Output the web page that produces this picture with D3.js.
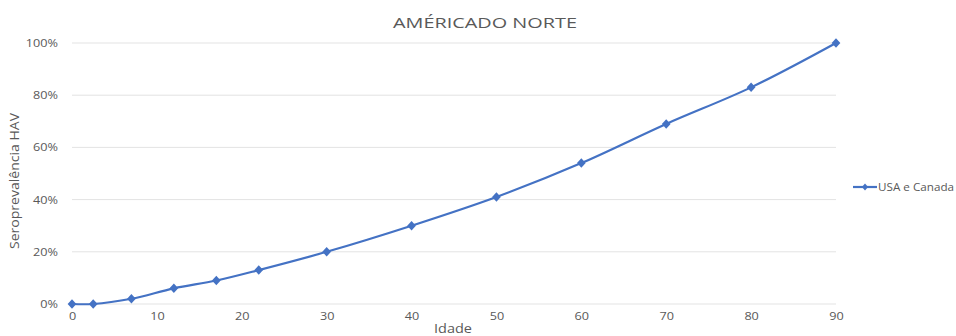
<!DOCTYPE html>
<html>
<head>
<meta charset="utf-8">
<script src="https://cdn.jsdelivr.net/npm/d3@7"></script>
<style>
  body { margin: 0; background: #fff; overflow: hidden; }
  svg { display: block; }
  text { font-family: "Open Sans", "Liberation Sans", sans-serif; }
</style>
</head>
<body>
<svg id="mainsvg" width="956" height="336"></svg>
<script>
const ages = [0, 2.5, 7, 12, 17, 22, 30, 40, 50, 60, 70, 80, 90];
const prevalence = [0, 0, 2, 6, 9, 13, 20, 30, 41, 54, 69, 83, 100];
const xTicks = [0, 10, 20, 30, 40, 50, 60, 70, 80, 90];
const yTicks = [0, 20, 40, 60, 80, 100];
const seriesName = 'USA e Canada';

const svg = d3.select('#mainsvg');
const margin = { top: 43, left: 72 };
const innerWidth = 836 - margin.left;
const innerHeight = 304 - margin.top;
const blue = '#4472c4';

const x = d3.scaleLinear().domain([0, 90]).range([0, innerWidth]);
const y = d3.scaleLinear().domain([0, 100]).range([innerHeight, 0]);

const g = svg.append('g').attr('transform', `translate(${margin.left},${margin.top})`);

// gridlines
g.selectAll('.grid').data(yTicks).join('line')
    .attr('x1', 0).attr('x2', innerWidth)
    .attr('y1', d => y(d)).attr('y2', d => y(d))
    .attr('stroke', '#e3e3e3').attr('stroke-width', 1);

// stretch text a little wider, like the reference
const widen = function(sel, k) {
    sel.each(function() {
        const w = this.getComputedTextLength();
        d3.select(this).attr('textLength', w * k).attr('lengthAdjust', 'spacingAndGlyphs');
    });
};

// y axis labels
const yAxis = d3.axisLeft(y).tickValues(yTicks).tickFormat(d => d + '%').tickSize(0).tickPadding(14);
g.append('g').call(yAxis)
    .call(a => a.select('.domain').remove())
    .selectAll('text').attr('fill', '#595959').attr('font-size', 11)
    .call(widen, 1.15);

// x axis labels
const xAxis = d3.axisBottom(x).tickValues(xTicks).tickSize(0).tickPadding(8);
g.append('g').attr('transform', `translate(0,${innerHeight})`).call(xAxis)
    .call(a => a.select('.domain').remove())
    .selectAll('text').attr('fill', '#595959').attr('font-size', 11)
    .call(widen, 1.15);

// line
const data = ages.map((a, i) => ({ age: a, v: prevalence[i] }));
const line = d3.line().x(d => x(d.age)).y(d => y(d.v)).curve(d3.curveCatmullRom.alpha(0.5));
g.append('path').datum(data)
    .attr('d', line)
    .attr('fill', 'none').attr('stroke', blue).attr('stroke-width', 2.2);

const diamond = d3.symbol().type(d3.symbolDiamond).size(36);
g.selectAll('.pt').data(data).join('path')
    .attr('d', diamond)
    .attr('transform', d => `translate(${x(d.age)},${y(d.v)}) scale(1.35,0.85)`)
    .attr('fill', blue);

// title
svg.append('text').text('AMÉRICADO NORTE')
    .attr('x', 485).attr('y', 28)
    .attr('text-anchor', 'middle')
    .attr('font-size', 15).attr('fill', '#595959')
    .attr('textLength', 184).attr('lengthAdjust', 'spacingAndGlyphs');

// axis titles
svg.append('text').text('Idade')
    .attr('x', 453).attr('y', 333)
    .attr('text-anchor', 'middle')
    .attr('font-size', 12).attr('fill', '#595959')
    .attr('textLength', 38).attr('lengthAdjust', 'spacingAndGlyphs');

svg.append('text').text('Seroprevalência HAV')
    .attr('transform', 'translate(19,181) rotate(-90)')
    .attr('text-anchor', 'middle')
    .attr('font-size', 12).attr('fill', '#595959')
    .attr('textLength', 136).attr('lengthAdjust', 'spacingAndGlyphs');

// legend
const lg = svg.append('g').attr('transform', 'translate(853,187)');
lg.append('line').attr('x1', 0).attr('x2', 24).attr('stroke', blue).attr('stroke-width', 2.2);
lg.append('path').attr('d', d3.symbol().type(d3.symbolDiamond).size(20))
    .attr('transform', 'translate(12,0) scale(1.3,0.85)').attr('fill', blue);
lg.append('text').text(seriesName)
    .attr('x', 25).attr('y', 4)
    .attr('font-size', 11).attr('fill', '#595959')
    .attr('textLength', 76).attr('lengthAdjust', 'spacingAndGlyphs');
</script>
</body>
</html>
